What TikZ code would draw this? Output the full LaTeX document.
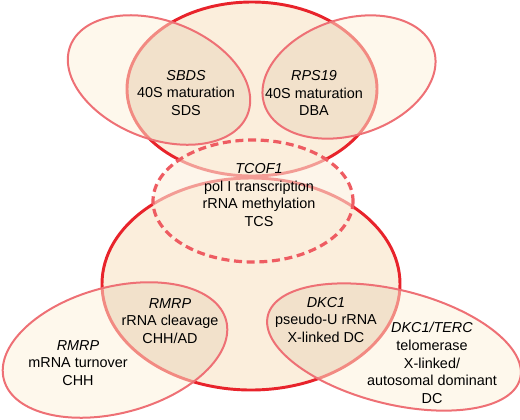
\documentclass[tikz,border=0pt]{standalone}
\usepackage{fontspec}
\setmainfont{Liberation Sans}
\definecolor{vennred}{HTML}{E8232B}
\definecolor{vennpink}{HTML}{EE7075}
\definecolor{venndash}{HTML}{EE5C62}
\definecolor{bigcream}{HTML}{FBEEDC}
\definecolor{smallcream}{HTML}{FDF1D9}
\definecolor{lensbeige}{HTML}{E7D1BD}
% outlines of the big sets
\newcommand{\ribotop}{(252,89) ellipse [x radius=125,y radius=87]}
\newcommand{\ribobot}{(251,284) ellipse [x radius=149,y radius=106]}

\begin{document}
\begin{tikzpicture}[x=0.75pt,y=-0.75pt,
  big/.style={draw=vennred,line width=2.2pt},
  small/.style={draw=vennpink,line width=1.5pt,fill=smallcream,fill opacity=.5},
  lab/.style={align=center,font=\fontsize{10.8}{13.2}\selectfont,inner sep=0pt}]
  \useasboundingbox (0,0) rectangle (520,419);
  \fill[bigcream] \ribotop;
  \fill[bigcream] \ribobot;
  % overlaps get the darker tone
  \begin{scope}
    \clip \ribotop;
    \fill[lensbeige,rotate around={-21:(159,80)}] (159,80) ellipse [x radius=95,y radius=59];
    \fill[lensbeige,rotate around={18:(349,77)}] (349,77) ellipse [x radius=89,y radius=58];
  \end{scope}
  \begin{scope}
    \clip \ribobot;
    \fill[lensbeige,rotate around={15:(115,350)}] (115,350) ellipse [x radius=115,y radius=63];
    \fill[lensbeige,rotate around={-14:(394,347)}] (394,347) ellipse [x radius=130,y radius=57];
  \end{scope}
  \draw[big] \ribotop;
  \draw[big] \ribobot;
  % the smaller sets
  \path[small,rotate around={-21:(159,80)}] (159,80) ellipse [x radius=95,y radius=59];
  \path[small,rotate around={18:(349,77)}] (349,77) ellipse [x radius=89,y radius=58];
  \path[small,rotate around={15:(115,350)}] (115,350) ellipse [x radius=115,y radius=63];
  \path[small,rotate around={-14:(394,347)}] (394,347) ellipse [x radius=130,y radius=57];
  \path[draw=venndash,line width=2.4pt,dash pattern=on 6pt off 3.5pt,
        fill=bigcream,fill opacity=.6] (253,201) ellipse [x radius=100,y radius=61];
  \node[lab] (sbds) at (186,93) {\textit{SBDS}\\40S maturation\\SDS};
  \node[lab] (rps) at (314,93) {\textit{RPS19}\\40S maturation\\DBA};
  \node[lab] (tcof) at (259,195) {\textit{TCOF1}\\pol I transcription\\rRNA methylation\\TCS};
  \node[lab] (rmrpcut) at (170,321) {\textit{RMRP}\\rRNA cleavage\\CHH/AD};
  \node[lab] (rmrpturn) at (78,363) {\textit{RMRP}\\mRNA turnover\\CHH};
  \node[lab] (dkc) at (326,320) {\textit{DKC1}\\pseudo-U rRNA\\X-linked DC};
  \node[lab] (terc) at (432,363) {\textit{DKC1/TERC}\\telomerase\\X-linked/\\autosomal dominant\\DC};
\end{tikzpicture}
\end{document}
